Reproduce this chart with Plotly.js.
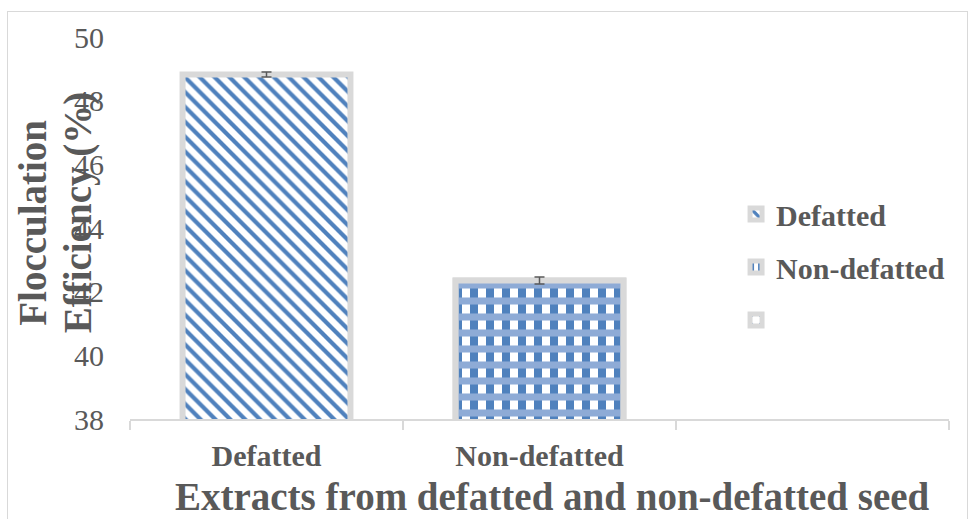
<!DOCTYPE html>
<html>
<head>
<meta charset="utf-8">
<script src="https://cdn.plot.ly/plotly-3.0.1.min.js"></script>
<style>
  html, body { margin: 0; padding: 0; background: #ffffff; }
  #wrap { position: relative; width: 969px; height: 519px; overflow: hidden; }
  #chart { width: 969px; height: 519px; }
  #frame { position: absolute; left: 7px; top: 11px; width: 961px; height: 540px;
           border: 1px solid #d9d9d9; pointer-events: none; box-sizing: border-box; }
</style>
</head>
<body>
<div id="wrap">
  <div id="chart"></div>
  <div id="frame"></div>
</div>
<script>
// ---- data ----
const categories = ["Defatted", "Non-defatted", " "];
const seriesNames = ["Defatted", "Non-defatted", " "];
const values = [48.82, 42.35, null];
const errors = [0.08, 0.11, 0];
const yTicks = [38, 40, 42, 44, 46, 48, 50];
const yTitleLines = ["Flocculation", "Efficiency (%)"];
const xTitle = "Extracts from defatted and non-defatted seed";

const BLUE = "#4f81bd";
const EDGE = "#d9d9d9";
const TXT = "#595959";
const FONT = "Liberation Serif, Times New Roman, serif";
const BW = 0.615;

const traces = [
  {
    type: "bar", name: seriesNames[0], legendgroup: "a",
    x: [categories[0]], y: [values[0]], width: [BW],
    marker: { color: "#ffffff", line: { color: EDGE, width: 6 },
      pattern: { shape: "\\", fgcolor: BLUE, bgcolor: "#ffffff", fgopacity: 1, size: 10.5, solidity: 0.4, fillmode: "replace" } },
    error_y: { type: "data", array: [errors[0]], color: "#595959", thickness: 1.5, width: 5 },
    hoverinfo: "skip"
  },
  {
    type: "bar", name: seriesNames[1], legendgroup: "b",
    x: [categories[1]], y: [values[1]], width: [BW],
    marker: { color: "#ffffff", line: { color: EDGE, width: 6 },
      pattern: { shape: "|", fgcolor: BLUE, bgcolor: "#ffffff", fgopacity: 1, size: 16, solidity: 0.5, fillmode: "replace" } },
    hoverinfo: "skip"
  },
  {
    type: "bar", name: seriesNames[1], legendgroup: "b", showlegend: false,
    x: [categories[1]], y: [values[1]], width: [BW],
    marker: { color: "rgba(0,0,0,0)", line: { color: EDGE, width: 6 },
      pattern: { shape: "-", fgcolor: "#8eabd6", bgcolor: "rgba(0,0,0,0)", fgopacity: 1, size: 16, solidity: 0.44, fillmode: "replace" } },
    error_y: { type: "data", array: [errors[1]], color: "#595959", thickness: 1.5, width: 5 },
    hoverinfo: "skip"
  },
  {
    type: "bar", name: seriesNames[2], legendgroup: "c",
    x: [categories[2]], y: [values[2]], width: [BW],
    marker: { color: "#ffffff", line: { color: EDGE, width: 6 },
      pattern: { shape: ".", fgcolor: BLUE, bgcolor: "#ffffff", fgopacity: 1, size: 12, solidity: 0.05, fillmode: "replace" } },
    hoverinfo: "skip"
  }
];

const layout = {
  width: 969, height: 519,
  margin: { l: 130, r: 20, t: 37, b: 100 },
  paper_bgcolor: "#ffffff", plot_bgcolor: "#ffffff",
  barmode: "overlay",
  showlegend: true,
  font: { family: FONT, color: TXT },
  xaxis: {
    type: "category", categoryorder: "array", categoryarray: categories,
    range: [-0.5, 2.5], fixedrange: true,
    showline: true, linecolor: EDGE, linewidth: 1.5,
    ticks: "outside", tickson: "boundaries", ticklen: 9, tickwidth: 1.5, tickcolor: EDGE,
    showgrid: false, zeroline: false,
    tickfont: { family: FONT, size: 30, color: TXT, weight: "bold" },
    ticklabelstandoff: 9
  },
  yaxis: {
    range: [38, 50], tickvals: yTicks, ticktext: yTicks.map(String),
    showline: false, showgrid: false, zeroline: false, ticks: "",
    tickfont: { family: FONT, size: 30, color: TXT },
    ticklabelstandoff: 25, fixedrange: true
  },
  legend: {
    x: 0.740, y: 0.605, xanchor: "left", yanchor: "top",
    font: { family: FONT, size: 30, color: TXT, weight: "bold" },
    bgcolor: "rgba(0,0,0,0)", traceorder: "grouped", tracegroupgap: 11
  },
  annotations: [
    { text: yTitleLines[0], xref: "paper", yref: "paper", x: -0.12, y: 0.513,
      xanchor: "center", yanchor: "middle", textangle: -90, showarrow: false,
      font: { family: FONT, size: 39, color: TXT, weight: "bold" } },
    { text: yTitleLines[1], xref: "paper", yref: "paper", x: -0.064, y: 0.54,
      xanchor: "center", yanchor: "middle", textangle: -90, showarrow: false,
      font: { family: FONT, size: 39, color: TXT, weight: "bold" } },
    { text: xTitle, xref: "paper", yref: "paper", x: 0.516, y: -0.204,
      xanchor: "center", yanchor: "middle", showarrow: false,
      font: { family: FONT, size: 39, color: TXT, weight: "bold" } }
  ]
};

Plotly.newPlot("chart", traces, layout, { staticPlot: true, displayModeBar: false });
</script>
</body>
</html>
